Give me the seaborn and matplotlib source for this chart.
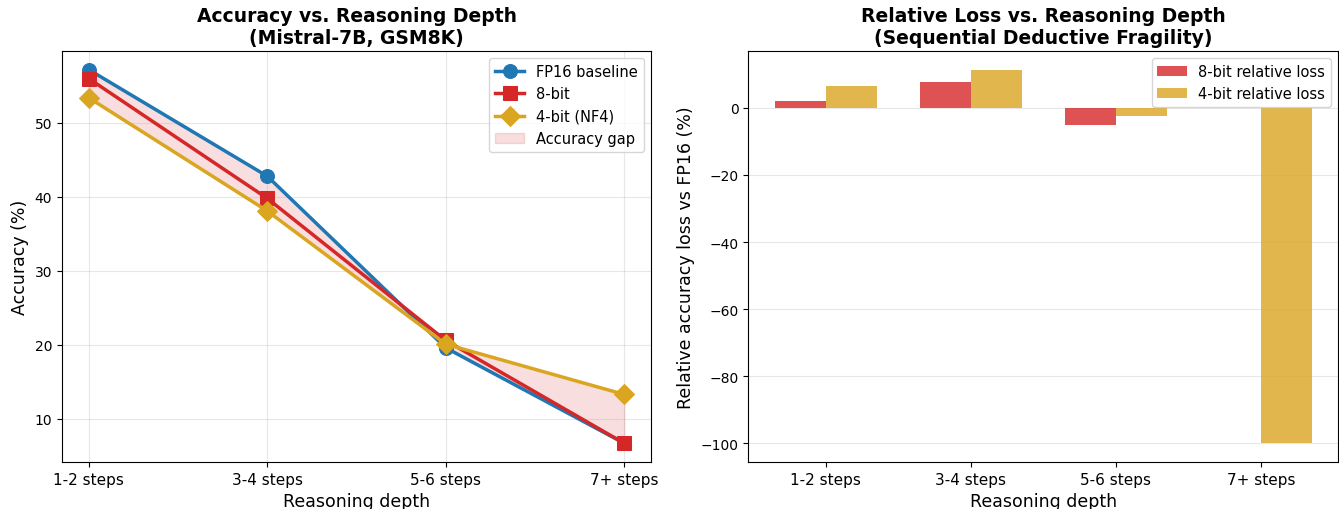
import matplotlib
matplotlib.use("Agg")
import matplotlib.pyplot as plt
import numpy as np
import pandas as pd
import seaborn as sns

# Данные
depths = ["1-2 steps", "3-4 steps", "5-6 steps", "7+ steps"]
acc_fp16 = [57.2, 42.8, 19.6, 6.7]
acc_8bit = [56.0, 39.8, 20.6, 6.7]
acc_4bit = [53.4, 38.1, 20.1, 13.3]

loss_8bit = [2.2, 7.6, -5.0, 0.0]
loss_4bit = [6.6, 11.4, -2.5, -100.0]

C_FP16 = "#1f77b4"
C_8BIT = "#d62728"
C_4BIT = "#DAA520"

plt.rcParams["font.family"] = ["DejaVu Sans"]

fig, (ax1, ax2) = plt.subplots(1, 2, figsize=(13.39, 5.1), dpi=100)
ax1.set_position([0.0463, 0.0922, 0.4399, 0.8059])
ax2.set_position([0.5589, 0.0922, 0.4406, 0.8059])

# Левая панель: точность по глубине рассуждений
x = np.arange(len(depths))
series = [
    (acc_fp16, "FP16 baseline", C_FP16, "o"),
    (acc_8bit, "8-bit", C_8BIT, "s"),
    (acc_4bit, "4-bit (NF4)", C_4BIT, "D"),
]
for vals, label, color, marker in series:
    sns.lineplot(x=x, y=vals, ax=ax1, color=color, marker=marker,
                 markersize=10, markeredgecolor=color, linewidth=2.5,
                 label=label)
ax1.fill_between(x, acc_fp16, acc_4bit, color=C_8BIT, alpha=0.15,
                 label="Accuracy gap")
ax1.set_xticks(x)
ax1.set_xticklabels(depths, fontsize=11)
ax1.tick_params(axis="y", labelsize=10)
ax1.set_xlabel("Reasoning depth", fontsize=12.5)
ax1.set_ylabel("Accuracy (%)", fontsize=12.5)
ax1.set_title("Accuracy vs. Reasoning Depth\n(Mistral-7B, GSM8K)",
              fontsize=13.5, fontweight="bold")
ax1.grid(True, alpha=0.3)
ax1.legend(loc="upper right", fontsize=10.5)

# Правая панель: относительная потеря
df = pd.DataFrame({
    "depth": depths * 2,
    "loss": loss_8bit + loss_4bit,
    "kind": ["8-bit relative loss"] * 4 + ["4-bit relative loss"] * 4,
})
sns.barplot(data=df, x="depth", y="loss", hue="kind", ax=ax2, width=0.7,
            palette=[C_8BIT, C_4BIT], saturation=1, alpha=0.8, linewidth=0)
sns.move_legend(ax2, "upper right", title=None, fontsize=10.5)
ax2.set_xlim(-0.535, 3.535)
ax2.tick_params(axis="x", labelsize=11)
ax2.tick_params(axis="y", labelsize=10)
ax2.set_xlabel("Reasoning depth", fontsize=12.5)
ax2.set_ylabel("Relative accuracy loss vs FP16 (%)", fontsize=12.5)
ax2.set_title("Relative Loss vs. Reasoning Depth\n(Sequential Deductive Fragility)",
              fontsize=13.5, fontweight="bold")
ax2.grid(True, axis="y", alpha=0.3)
ax2.set_axisbelow(True)

fig.savefig("out.png", dpi=100)
